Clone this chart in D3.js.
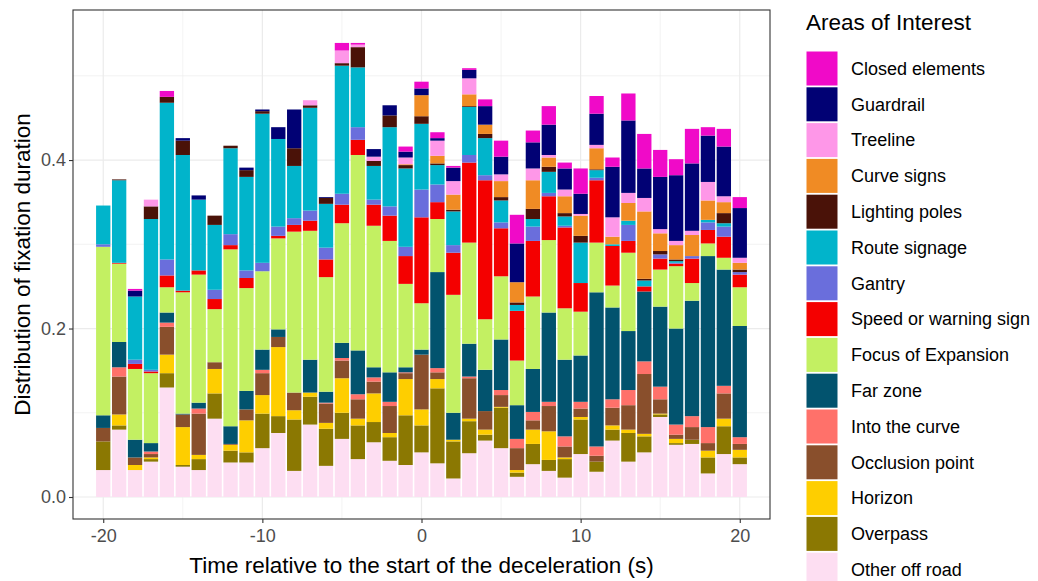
<!DOCTYPE html>
<html><head><meta charset="utf-8">
<script src="https://cdn.jsdelivr.net/npm/d3@7"></script>
<style>body{margin:0;background:#fff} svg{display:block;font-family:"Liberation Sans",Arial,sans-serif}</style>
</head><body><svg id="c" width="1038" height="581"></svg>
<script>
const time = [-20,-19,-18,-17,-16,-15,-14,-13,-12,-11,-10,-9,-8,-7,-6,-5,-4,-3,-2,-1,0,1,2,3,4,5,6,7,8,9,10,11,12,13,14,15,16,17,18,19,20];

const otherOffRoad = [.032,.080,.032,.042,.130,.036,.032,.093,.041,.041,.058,.076,.031,.086,.037,.069,.045,.065,.043,.038,.053,.040,.022,.052,.067,.058,.024,.039,.031,.023,.051,.030,.067,.042,.053,.095,.062,.063,.028,.051,.039];
const overpass = [.034,.005,0,.003,.017,.002,.013,.030,.014,.012,.041,.020,.061,.033,.044,.031,.040,.024,.028,.059,.032,.089,.044,.038,.007,.048,.005,.024,.013,.022,.041,.012,.013,.034,.019,.003,.002,.005,.019,.033,.008];
const horizon = [0,.013,.006,.002,.022,.045,.005,.029,.007,.038,.022,.082,.011,.005,.007,.041,.008,.034,.005,.043,.019,.011,.002,.003,.006,.001,.003,.017,.034,.002,.003,0,.005,.004,.003,.001,.005,0,.008,.009,.009];
const occlusionPoint = [.016,.045,.009,.004,.033,.015,.049,.008,.001,.013,.026,.012,.021,0,.023,.021,.023,.014,.032,.007,.065,.008,0,.048,.022,.014,.026,.011,.030,.013,.010,.007,.021,.029,.071,.017,.005,.015,.009,.030,.007];
const intoTheCurve = [0,.011,0,.003,.005,0,.006,0,0,0,.004,0,0,0,.001,.003,.006,.005,.005,.001,0,.005,0,.002,0,.006,.011,.010,.005,.012,.008,.011,.010,.018,.015,.015,.012,.013,.019,.009,.008];
const farZone = [.015,.030,.021,.010,.012,.001,.007,0,.021,.022,.024,.009,0,.039,.013,.018,.052,.012,.035,.006,.006,.114,.032,.039,.049,.060,.040,.051,.106,.091,.055,.183,.109,.070,.083,.095,.114,.137,.203,.138,.132];
const focusOfExpansion = [.200,.093,.084,.083,.030,.144,.152,.063,.210,.122,.093,.108,.191,.153,.136,.142,.232,.168,.156,.099,.055,.063,.140,.120,.060,.075,.053,.086,.086,.061,.052,.059,.026,.093,0,.044,.074,.021,.015,.014,.046];
const speedOrWarningSign = [0,.001,.006,.002,.014,.002,.005,.012,.005,.012,0,.003,.008,.012,.021,.022,.018,.025,.030,.033,.102,.020,.050,.095,.165,.057,.059,.066,.052,.096,.034,.074,.047,.014,.006,.013,.003,.029,.016,.025,.015];
const gantry = [.003,0,.005,.002,.019,0,0,.011,.013,.009,.010,.011,.008,.012,.014,.013,.015,.006,.011,.011,.033,.021,.009,.009,.006,.007,0,.017,.004,.002,0,.003,0,.019,0,.005,.001,.003,.009,.012,.003];
const routeSignage = [.046,.098,.075,.179,.186,.161,.084,.077,.102,.111,.177,.104,.062,.122,.052,.152,.071,.040,.094,.093,.078,.023,.040,.057,.044,.026,.007,.009,.025,.011,.048,.009,.002,.005,.007,0,.002,0,.003,.004,0];
const lightingPoles = [0,.001,0,.015,.007,.017,0,.011,.003,.008,.003,0,.021,.003,.007,.003,.024,.006,.014,.004,.009,.002,.002,.001,.005,.004,.003,.012,.006,.004,.008,.001,0,0,.002,.004,.002,0,0,.012,.003];
const curveSigns = [0,0,0,0,0,0,0,0,0,0,0,0,0,0,0,0,0,0,0,.001,.025,.009,.018,.014,.011,.019,.024,.034,.011,.020,.024,.025,.009,.021,.080,.021,.017,.025,.023,.013,.008];
const treeline = [0,0,0,.008,0,0,0,0,0,0,0,0,0,.006,0,.015,.003,.005,0,.008,0,.018,.016,.019,0,.008,0,.014,.003,.008,.002,.004,.023,.012,.016,.005,.005,.005,.022,.007,.006];
const guardrail = [0,0,.007,0,0,.003,.005,0,0,.003,.002,.014,.046,0,.001,0,0,.009,.012,.007,.008,.003,.016,.010,.022,.021,.046,.031,.036,.025,.024,.037,.060,.086,.035,.062,.078,.080,.055,.059,.059];
const closedElements = [0,0,.002,0,.007,0,0,0,0,0,0,0,0,0,0,.009,.002,0,0,.006,.008,.007,.002,.002,.008,.019,.034,.014,.022,.007,.030,.021,.011,.032,.041,.032,.019,.041,.010,.021,.013];

// stack order, bottom to top
const categories = ["Other off road","Overpass","Horizon","Occlusion point","Into the curve","Far zone","Focus of Expansion","Speed or warning sign","Gantry","Route signage","Lighting poles","Curve signs","Treeline","Guardrail","Closed elements"];
const seriesValues = [otherOffRoad,overpass,horizon,occlusionPoint,intoTheCurve,farZone,focusOfExpansion,speedOrWarningSign,gantry,routeSignage,lightingPoles,curveSigns,treeline,guardrail,closedElements];
const colours = ["#FDDEF2","#8B7802","#FECE00","#894F2C","#FF716A","#02536E","#C3F062","#F40000","#6A6EDC","#01B4CB","#4A1208","#F08B24","#FE97E8","#010174","#F00AC8"];

const xTicks = [-20,-10,0,10,20];
const xMinor = [-15,-5,5,15];
const yTicks = [0,0.2,0.4];
const yMinor = [0.1,0.3,0.5];
const yTickLabels = ["0.0","0.2","0.4"];
const xTitle = "Time relative to the start of the deceleration (s)";
const yTitle = "Distribution of fixation duration";
const legendTitle = "Areas of Interest";

const svg = d3.select("#c");
const L=73,R=770,T=10,B=519;
const x = d3.scaleLinear().domain([-21.9,21.9]).range([L,R]);
const y = d3.scaleLinear().domain([-0.0261,0.5781]).range([B,T]);
const colour = d3.scaleOrdinal().domain(categories).range(colours);

const rows = time.map((t,i)=>{const r={time:t}; categories.forEach((k,j)=>r[k]=seriesValues[j][i]); return r;});
const stacked = d3.stack().keys(categories)(rows);

// panel background + grid
svg.append("rect").attr("x",L).attr("y",T).attr("width",R-L).attr("height",B-T).attr("fill","#fff");
const g = svg.append("g");
g.selectAll(".ym").data(yMinor).join("line").attr("x1",L).attr("x2",R).attr("y1",d=>y(d)).attr("y2",d=>y(d)).attr("stroke","#EBEBEB").attr("stroke-width",0.6);
g.selectAll(".xm").data(xMinor).join("line").attr("y1",T).attr("y2",B).attr("x1",d=>x(d)).attr("x2",d=>x(d)).attr("stroke","#EBEBEB").attr("stroke-width",0.6);
g.selectAll(".yM").data(yTicks).join("line").attr("x1",L).attr("x2",R).attr("y1",d=>y(d)).attr("y2",d=>y(d)).attr("stroke","#EBEBEB").attr("stroke-width",1.2);
g.selectAll(".xM").data(xTicks).join("line").attr("y1",T).attr("y2",B).attr("x1",d=>x(d)).attr("x2",d=>x(d)).attr("stroke","#EBEBEB").attr("stroke-width",1.2);

// bars
const bw = 0.9;
svg.append("g").selectAll("g").data(stacked).join("g").attr("fill",d=>colour(d.key))
  .selectAll("rect").data(d=>d.filter(p=>p[1]-p[0]>0)).join("rect")
  .attr("x",d=>x(d.data.time-bw/2)).attr("width",d=>x(d.data.time+bw/2)-x(d.data.time-bw/2))
  .attr("y",d=>y(d[1])).attr("height",d=>y(d[0])-y(d[1]));

// border
svg.append("rect").attr("x",L).attr("y",T).attr("width",R-L).attr("height",B-T).attr("fill","none").attr("stroke","#333333").attr("stroke-width",1.1);

// axes
const xa = svg.append("g").attr("transform",`translate(0,${B})`).call(d3.axisBottom(x).tickValues(xTicks).tickSize(4).tickPadding(6).tickFormat(d3.format("d")));
const ya = svg.append("g").attr("transform",`translate(${L},0)`).call(d3.axisLeft(y).tickValues(yTicks).tickSize(4).tickPadding(3).tickFormat((d,i)=>yTickLabels[i]));
[xa,ya].forEach(a=>{a.select(".domain").remove();a.selectAll(".tick line").attr("stroke","#333333").attr("stroke-width",1.1);a.selectAll(".tick text").attr("fill","#4D4D4D").style("font-size","18px").style("font-family","'Liberation Sans',Arial,sans-serif");});
xa.selectAll(".tick text").text(d=>d<0?"-"+Math.abs(d):d);

svg.append("text").attr("x",(L+R)/2).attr("y",573).attr("text-anchor","middle").style("font-size","22.5px").attr("fill","#000").text(xTitle);
svg.append("text").attr("transform",`translate(30,${(T+B)/2}) rotate(-90)`).attr("text-anchor","middle").style("font-size","22.5px").attr("fill","#000").text(yTitle);

// legend
const lg = svg.append("g");
lg.append("text").attr("x",806).attr("y",30).style("font-size","22.5px").attr("fill","#000").text(legendTitle);
const legendOrder = categories.slice().reverse();
const item = lg.selectAll(".li").data(legendOrder).join("g").attr("transform",(d,i)=>`translate(806,${51+i*35.8})`);
item.append("rect").attr("x",0.5).attr("y",0.5).attr("width",31).attr("height",34).attr("fill",d=>colour(d));
item.append("text").attr("x",45).attr("y",17.5).attr("dy","0.35em").style("font-size","18px").attr("fill","#000").text(d=>d);
</script></body></html>
